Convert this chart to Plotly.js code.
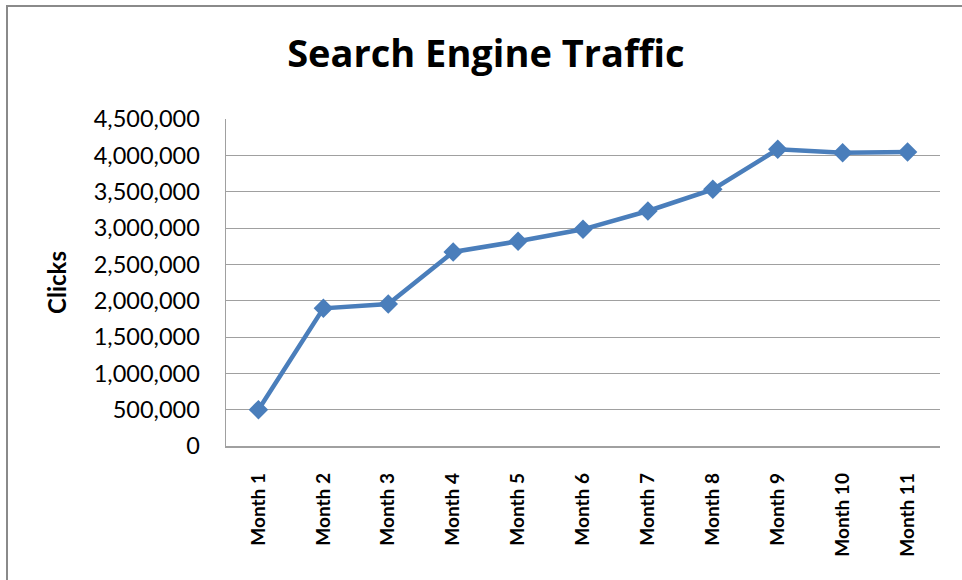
<!DOCTYPE html>
<html>
<head>
<meta charset="utf-8">
<script src="https://cdn.plot.ly/plotly-3.0.1.min.js"></script>
<style>
html,body{margin:0;padding:0;background:#fff;}
#wrap{position:relative;width:962px;height:580px;overflow:hidden;}
#chart{position:absolute;left:0;top:0;width:962px;height:580px;}
#frame{position:absolute;left:6px;top:5px;width:1000px;height:700px;border-left:2px solid #8a8a8a;border-top:2px solid #8a8a8a;pointer-events:none;}
</style>
</head>
<body>
<div id="wrap"><div id="chart"></div><div id="frame"></div></div>
<script>
const months = ["Month 1","Month 2","Month 3","Month 4","Month 5","Month 6","Month 7","Month 8","Month 9","Month 10","Month 11"];
const clicks = [500000, 1895000, 1954000, 2670000, 2817000, 2982000, 3234000, 3532000, 4083000, 4036000, 4046000];
const yTicks = [0, 500000, 1000000, 1500000, 2000000, 2500000, 3000000, 3500000, 4000000, 4500000];
const yTickText = ["0","500,000","1,000,000","1,500,000","2,000,000","2,500,000","3,000,000","3,500,000","4,000,000","4,500,000"];

const trace = {
  x: months,
  y: clicks,
  type: 'scatter',
  mode: 'lines+markers',
  line: {color: '#4A7EBB', width: 4.5},
  marker: {symbol: 'diamond', size: 15, color: '#4A7EBB'},
  hoverinfo: 'x+y'
};

const layout = {
  width: 962, height: 580,
  margin: {l: 226, r: 22, t: 119, b: 134, pad: 0},
  paper_bgcolor: '#ffffff',
  plot_bgcolor: '#ffffff',
  showlegend: false,
  font: {family: 'Lato, "Open Sans", sans-serif', color: '#000'},
  title: {
    text: 'Search Engine Traffic',
    font: {family: '"Open Sans", Lato, sans-serif', size: 38, weight: 'bold', color: '#000'},
    xref: 'container', x: 0.505, xanchor: 'center',
    yref: 'container', y: 1 - 54/580, yanchor: 'middle'
  },
  xaxis: {
    type: 'category',
    range: [-0.5, 10.5],
    tickangle: -90,
    tickfont: {family: 'Lato, sans-serif', size: 19, weight: 'bold', color: '#000'},
    showgrid: false,
    showline: true, linecolor: '#a0a0a0', linewidth: 1.5,
    ticks: '',
    ticklabelstandoff: 18,
    zeroline: false,
    fixedrange: true
  },
  yaxis: {
    range: [0, 4500000],
    tickvals: yTicks,
    ticktext: yTickText,
    tickfont: {family: 'Lato, sans-serif', size: 23.5, color: '#000'},
    showgrid: true, gridcolor: '#a0a0a0', gridwidth: 1,
    showline: true, linecolor: '#a0a0a0', linewidth: 1.5,
    ticks: '',
    ticklabelstandoff: 20,
    zeroline: false,
    title: {text: 'Clicks', font: {family: 'Lato, sans-serif', size: 24, weight: 'bold', color: '#000'}, standoff: 20},
    fixedrange: true
  }
};

Plotly.newPlot('chart', [trace], layout, {displayModeBar: false, staticPlot: true});
</script>
</body>
</html>
